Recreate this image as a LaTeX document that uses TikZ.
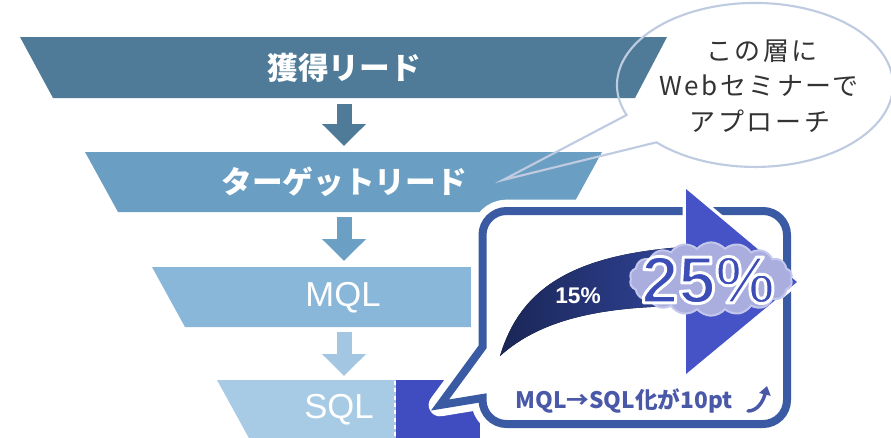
\documentclass[tikz,border=0pt]{standalone}
\usepackage{fontspec}
\newfontfamily\jp{Noto Sans CJK JP}
\newfontfamily\jpsp{Noto Sans CJK JP}[LetterSpace=10]
\newfontfamily\lib{Liberation Sans}
\usetikzlibrary{arrows.meta,shapes.symbols}
\definecolor{barA}{HTML}{4F7B98}
\definecolor{barB}{HTML}{6A9EC3}
\definecolor{barC}{HTML}{89B7D9}
\definecolor{barD}{HTML}{A8CBE5}
\definecolor{arrA}{HTML}{4F7B98}
\definecolor{arrB}{HTML}{6C9FC4}
\definecolor{arrC}{HTML}{A3C6E2}
\definecolor{boxblue}{HTML}{3A5BA3}
\definecolor{tri}{HTML}{4553C6}
\definecolor{navy}{HTML}{1A2656}
\definecolor{navyR}{HTML}{33469E}
\definecolor{cloudc}{HTML}{A9AEDF}
\definecolor{cloudedge}{HTML}{C3C7EC}
\definecolor{pct}{HTML}{3C4DB8}
\definecolor{bottxt}{HTML}{4A58A8}
\definecolor{bubble}{HTML}{BFCBE0}
\definecolor{sqlblue}{HTML}{3F4DC0}
\definecolor{grtxt}{HTML}{333333}
\newcommand\outlinedtext[1]{\special{pdf:literal direct 1 1 1 RG 2.2 w 1 j 2 Tr}#1\special{pdf:literal direct 0 Tr}}
\tikzset{
  barlabel/.style={text=white, font=\jp\bfseries\fontsize{23}{23}\selectfont, inner sep=0pt},
  latlabel/.style={text=white, font=\lib\fontsize{26}{26}\selectfont, inner sep=0pt},
  flowarrow/.style={line width=11.25pt, -{Triangle[width=32pt,length=16.5pt]}},
  bubbletext/.style={text=grtxt, font=\jpsp\fontsize{19.5}{19.5}\selectfont, inner sep=0pt},
  bubbleline/.style={draw=bubble, line width=1.6pt},
  pcttext/.style={font=\lib\bfseries\fontsize{50}{50}\selectfont, inner sep=0pt}
}
\begin{document}
\begin{tikzpicture}[x=0.75pt,y=-0.75pt]
\useasboundingbox (0,0) rectangle (891,437);
\clip (0,0) rectangle (891,437);
% funnel bars
\fill[barA] (20,37) -- (667,37) -- (635,98) -- (53,98) -- cycle;
\fill[barB] (85,152) -- (602,152) -- (569,212) -- (118,212) -- cycle;
\fill[barC] (152,267) -- (535,267) -- (502,327) -- (185,327) -- cycle;
\fill[barD] (217,380) -- (470,380) -- (470,440) -- (250,440) -- cycle;
\fill[sqlblue] (396,380) rectangle (480,440);
\draw[white, line width=1.5pt, dash pattern=on 3pt off 2.5pt] (395,381) -- (395,437);
% labels
\node[barlabel] (l1) at (344,68) {獲得リード};
\node[barlabel] (l2) at (344,182) {ターゲットリード};
\node[latlabel] (l3) at (343,298) {MQL};
\node[latlabel] (l4) at (339,410) {SQL};
% flow arrows
\coordinate (a1s) at (344,104); \coordinate (a1e) at (344,146);
\coordinate (a2s) at (344,217); \coordinate (a2e) at (344,261);
\coordinate (a3s) at (344,332); \coordinate (a3e) at (344,376);
\draw[flowarrow, arrA] (a1s) -- (a1e);
\draw[flowarrow, arrB] (a2s) -- (a2e);
\draw[flowarrow, arrC] (a3s) -- (a3e);
% speech bubble (ellipse)
\coordinate (btip) at (503,180);
\coordinate (batt) at (626.6,115.0);
\draw[bubbleline] (btip) -- (batt) arc[start angle=158.5, end angle=495.6, x radius=138, y radius=82] -- cycle;
\node[bubbletext] (t1) at (762,51) {この層に};
\node[bubbletext] (t2) at (759,86) {Webセミナーで};
\node[bubbletext] (t3) at (760,121) {アプローチ};
% callout box
\def\calloutpath{(482.5,347) -- (440,405) -- (482.5,398) -- (482.5,400) arc[start angle=180,end angle=90,radius=24] -- (763,424) arc[start angle=90,end angle=0,radius=24] -- (787,235) arc[start angle=0,end angle=-90,radius=24] -- (506.5,211) arc[start angle=-90,end angle=-180,radius=24] -- cycle}
\draw[white, fill=white, line width=17pt, line join=round] \calloutpath;
\draw[boxblue, line width=6pt] \calloutpath;
% big arrow head
\draw[white, line width=5pt, line join=round] (686,189) -- (797,282) -- (686,374) -- cycle;
\fill[tri] (686,189) -- (797,282) -- (686,374) -- cycle;
% swoosh
\fill[left color=navy, right color=navyR] (500,356) .. controls (520,290) and (570,252) .. (700,246) -- (700,306) .. controls (600,305) and (540,320) .. (500,356) -- cycle;
\node[text=white, font=\lib\bfseries\fontsize{17}{17}\selectfont, inner sep=0pt] (p15) at (578,296) {15\%};
% cloud + 25%
\node[cloud, cloud puffs=18, cloud puff arc=100, aspect=2.3, minimum width=122pt, minimum height=55pt, fill=cloudc, draw=cloudedge, line width=1.5pt, inner sep=0pt] (cl) at (711,279) {};
\node[pcttext, text=pct] (p25) at (708,280) {\outlinedtext{25\%}};
% bottom text
\node[text=bottxt, font=\jp\bfseries\fontsize{17}{17}\selectfont, inner sep=0pt] (bt) at (624,401) {MQL→SQL化が10pt};
\coordinate (c1) at (748,411);
\coordinate (c2) at (767,386);
\draw[bottxt, line width=2.6pt, line cap=round, -{Triangle[width=8.5pt,length=6.5pt]}] (c1) .. controls (757,411) and (763,402) .. (c2);
\end{tikzpicture}
\end{document}
